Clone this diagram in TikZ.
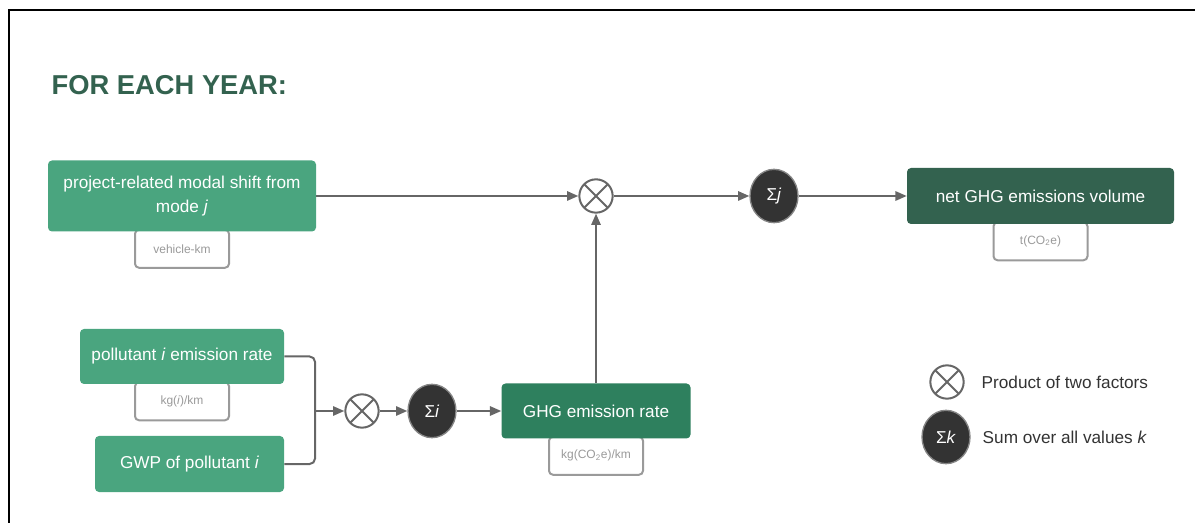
\documentclass[tikz,border=0pt]{standalone}
\usepackage{fontspec}
\setmainfont{Liberation Sans}
\usepackage{tikz}
\usetikzlibrary{shapes, arrows, positioning, calc}
\usetikzlibrary{arrows.meta}
\usetikzlibrary{backgrounds}

\definecolor{boxgreen}{HTML}{4AA57F}
\definecolor{rategreen}{HTML}{2E805E}
\definecolor{darkgreen}{HTML}{33624F}
\definecolor{linegray}{HTML}{666666}
\definecolor{taggray}{HTML}{9A9A9A}
\definecolor{sumgray}{HTML}{333333}

\begin{document}
\begin{tikzpicture}[x=0.75pt, y=-0.75pt,
  box/.style={rectangle, rounded corners=3pt, fill=boxgreen, text=white, align=center,
    inner sep=0pt, font=\fontsize{12.9}{18.5}\selectfont},
  unit/.style={rectangle, rounded corners=3pt, draw=taggray, line width=1.5pt, fill=white,
    text=taggray, minimum width=70.5pt, minimum height=28.5pt, inner sep=0pt,
    font=\fontsize{9}{11}\selectfont},
  prod/.style={circle, draw=linegray, line width=1.5pt, minimum size=25pt, inner sep=0pt,
    path picture={\draw[linegray, line width=1.5pt]
      (path picture bounding box.north east) -- (path picture bounding box.south west)
      (path picture bounding box.north west) -- (path picture bounding box.south east);}},
  sum/.style={ellipse, fill=sumgray, draw=linegray!80, line width=1pt, text=white,
    minimum width=36pt, minimum height=40pt, inner sep=0pt, font=\fontsize{12.9}{15}\selectfont},
  flow/.style={draw=linegray, line width=1.5pt, -{Triangle[length=8.5pt,width=7pt]}},
  wire/.style={draw=linegray, line width=1.5pt, rounded corners=4pt}]
\useasboundingbox (0,0) rectangle (1195,523);

% frame
\draw[line width=2pt] (1195,10) -- (9,10) -- (9,523);

% title
\node[anchor=west, text=darkgreen, font=\fontsize{20.5}{24}\bfseries] (title) at (47,85) {FOR EACH YEAR:};

% input boxes
\node[box, minimum width=201pt, minimum height=53.25pt] (modal) at (182,196)
  {project-related modal shift from\\ mode \textit{j}};
\node[box, minimum width=153pt, minimum height=41.25pt] (poll) at (182,356.5)
  {pollutant \textit{i} emission rate};
\node[box, minimum width=141.75pt, minimum height=42pt] (gwp) at (189.5,464)
  {GWP of pollutant \textit{i}};

% derived boxes
\node[box, fill=rategreen, minimum width=141.75pt, minimum height=41.25pt] (rate) at (596,411)
  {GHG emission rate};
\node[box, fill=darkgreen, minimum width=200.25pt, minimum height=42pt] (net) at (1040.5,196)
  {net GHG emissions volume};

% units
\begin{scope}[on background layer]
\node[unit, below=-2.25pt of modal] (modalunit) {vehicle-km};
\node[unit, below=-2.25pt of poll] (pollunit) {kg(\textit{i})/km};
\node[unit, below=-2.25pt of rate] (rateunit) {kg(CO\textsubscript{2}e)/km};
\node[unit, below=-2.25pt of net] (netunit) {t(CO\textsubscript{2}e)};
\end{scope}

% operators
\node[prod] (multj) at (596,196) {};
\node[sum] (sumj) at (774,196) {Σ\textit{j}};
\node[prod] (multi) at (362,411) {};
\node[sum] (sumi) at (432,411) {Σ\textit{i}};
\coordinate (join) at (315,411);

% connectors
\draw[flow] (modal.east) -- (multj);
\draw[flow] (multj) -- (sumj);
\draw[flow] (sumj) -- (net.west);
\draw[wire] (poll.east) -| (join);
\draw[wire] (gwp.east) -| (join);
\draw[flow] (join) -- (multi);
\draw[flow] (multi) -- (sumi);
\draw[flow] (sumi) -- (rate.west);
\draw[flow] (rate.north) -- (multj.south);

% legend
\node[prod] (keyprod) at (947,382) {};
\node[anchor=west, text=sumgray, font=\fontsize{12.9}{15}\selectfont] (keyprodtext) at (977,382)
  {Product of two factors};
\node[sum] (keysum) at (946,437) {Σ\textit{k}};
\node[anchor=west, text=sumgray, font=\fontsize{12.9}{15}\selectfont] (keysumtext) at (978,437)
  {Sum over all values \textit{k}};
\end{tikzpicture}
\end{document}
